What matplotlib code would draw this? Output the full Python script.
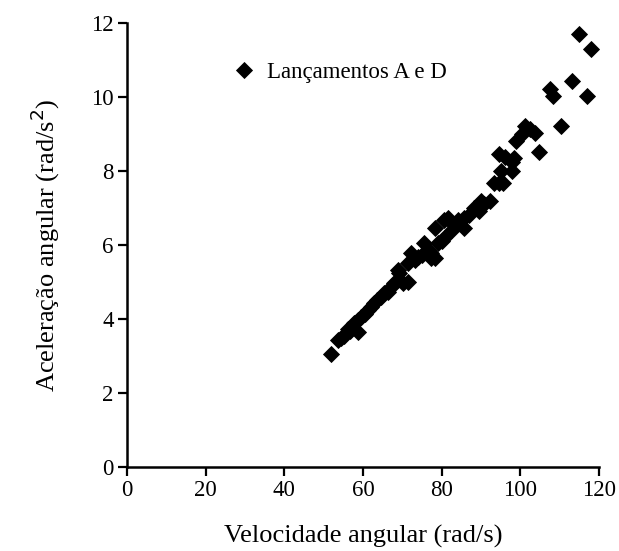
import matplotlib
matplotlib.use("Agg")
import matplotlib.pyplot as plt
import numpy as np

# dados (velocidade angular x aceleração angular)
velocidade = [
    51.8, 53.6, 54.4, 55.2, 56.2, 56.8, 57.7, 58.7, 58.7, 59.5,
    60.4, 61.2, 62.0, 62.8, 63.6, 64.5, 65.4, 66.4, 67.3, 68.0,
    68.9, 69.2, 70.2, 71.5, 71.5, 72.3, 73.2, 74.0, 75.0, 75.6,
    76.4, 77.4, 77.4, 78.2, 78.2, 79.0, 80.0, 80.7, 80.7, 81.7,
    82.5, 83.2, 84.2, 85.8, 85.8, 87.0, 88.2, 89.4, 90.1, 90.8,
    92.2, 93.2, 94.5, 94.5, 95.2, 95.7, 96.0, 97.8, 97.8, 98.5,
    99.0, 100.3, 101.2, 102.5, 103.6, 104.7, 107.5, 108.3, 110.4, 113.1,
    114.9, 116.9, 118.0,
]
aceleracao = [
    3.04, 3.42, 3.48, 3.55, 3.72, 3.68, 3.88, 3.64, 3.96, 4.05,
    4.12, 4.23, 4.31, 4.42, 4.50, 4.58, 4.69, 4.72, 4.90, 4.96,
    5.31, 5.23, 4.96, 5.50, 4.99, 5.77, 5.60, 5.67, 5.72, 6.04,
    5.85, 5.77, 5.66, 6.47, 5.64, 6.04, 6.10, 6.20, 6.66, 6.74,
    6.39, 6.55, 6.66, 6.47, 6.74, 6.80, 7.00, 6.93, 7.20, 7.10,
    7.20, 7.66, 8.47, 7.66, 8.00, 7.66, 8.37, 8.23, 8.00, 8.36,
    8.80, 9.00, 9.22, 9.13, 9.03, 8.50, 10.20, 10.03, 9.20, 10.43,
    11.70, 10.03, 11.30,
]
rotulo_serie = "Lançamentos A e D"

x_ticks = [0, 20, 40, 60, 80, 100, 120]
y_ticks = [0, 2, 4, 6, 8, 10, 12]

plt.rcParams['font.family'] = ['Liberation Serif', 'DejaVu Serif']

fig = plt.figure(figsize=(6.19, 5.51), dpi=100)
ax = fig.add_axes([0.2052, 0.1525, 0.7625, 0.806])

ax.plot(
    velocidade,
    aceleracao,
    linestyle='none',
    marker='D',
    markersize=8,
    markerfacecolor='black',
    markeredgecolor='black',
    markeredgewidth=0.6,
    label=rotulo_serie
)

ax.set_xlim(0, 120)
ax.set_ylim(0, 12)
ax.set_xticks(x_ticks)
ax.set_yticks(y_ticks)

for lado in ['top', 'right']:
    ax.spines[lado].set_visible(False)
for lado in ['left', 'bottom']:
    ax.spines[lado].set_linewidth(1.8)

ax.tick_params(
    axis='both',
    direction='out',
    length=6.5,
    width=1.6,
    labelsize=16.5,
    pad=3
)

ax.set_xlabel('Velocidade angular (rad/s)', fontsize=19, labelpad=17)
ax.set_ylabel('Aceleração angular (rad/s$^2$)', fontsize=19, labelpad=21)

ax.legend(
    loc='center left',
    bbox_to_anchor=(0.18, 0.888),
    frameon=False,
    fontsize=16.5,
    handletextpad=0.0,
    borderaxespad=0,
    markerscale=1.0
)

plt.savefig('out.png', dpi=100)
plt.close()
